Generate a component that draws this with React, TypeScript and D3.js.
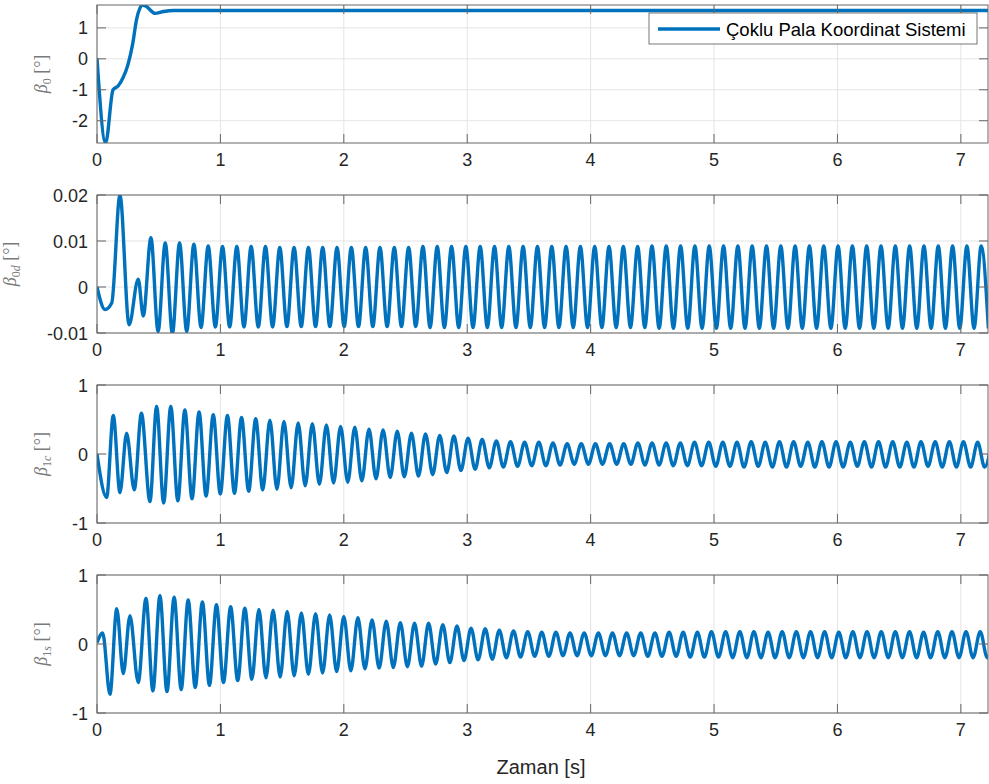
import * as d3 from 'd3';

// time axis
const tMax = 7.22;
const xTicks = [0, 1, 2, 3, 4, 5, 6, 7];

// beta_0
const b0T = [0, 0.07, 0.13, 0.17, 0.21, 0.25, 0.29, 0.32, 0.347, 0.37, 0.4, 0.47, 0.54, 0.62, 1.0, 7.22];
const b0V = [0.02, -2.72, -1.0, -0.88, -0.62, -0.2, 0.5, 1.26, 1.63, 1.74, 1.69, 1.47, 1.53, 1.56, 1.56, 1.56];

// beta_0d
const b0dT = [0, 0.065, 0.12, 0.186, 0.26, 0.334, 0.375];
const b0dV = [0, -0.0049, -0.0034, 0.02, -0.0082, 0.0017, -0.0063];
const b0dPeakT = [
    0.437, 0.553, 0.669, 0.785, 0.901, 1.017, 1.133, 1.249, 1.365, 1.481, 1.597, 1.713, 1.829, 1.945, 2.061,
    2.177, 2.293, 2.409, 2.525, 2.641, 2.757, 2.873, 2.989, 3.105, 3.221, 3.337, 3.453, 3.569, 3.685, 3.801,
    3.917, 4.033, 4.149, 4.265, 4.381, 4.497, 4.613, 4.729, 4.845, 4.961, 5.077, 5.193, 5.309, 5.425, 5.541,
    5.657, 5.773, 5.889, 6.005, 6.121, 6.237, 6.353, 6.469, 6.585, 6.701, 6.817, 6.933, 7.049, 7.165,
];
const b0dPeakV = [
    0.0107, 0.0096, 0.0096, 0.0093, 0.0089, 0.0088, 0.0088, 0.0088, 0.0088,
    0.0086, 0.0086, 0.0086, 0.0086, 0.0086, 0.0086, 0.0086, 0.0086, 0.0086, 0.0086,
    0.0088, 0.0088, 0.0088, 0.0088, 0.0088, 0.0088, 0.0088, 0.0088, 0.0088, 0.0088, 0.0088, 0.0088, 0.0088,
    0.0088, 0.0088, 0.0088,
    0.0089, 0.0089, 0.0089, 0.0089, 0.0089, 0.0089, 0.0089, 0.0089, 0.0089, 0.0089, 0.0089, 0.0089, 0.0089,
    0.0089, 0.0089, 0.0089, 0.0089, 0.0089, 0.0089, 0.0089, 0.0089, 0.0089, 0.0089, 0.0089,
];
const b0dTroughT = [
    0.495, 0.611, 0.727, 0.843, 0.959, 1.075, 1.191, 1.307, 1.423, 1.539, 1.655, 1.771, 1.887, 2.003, 2.119,
    2.235, 2.351, 2.467, 2.583, 2.699, 2.815, 2.931, 3.047, 3.163, 3.279, 3.395, 3.511, 3.627, 3.743, 3.859,
    3.975, 4.091, 4.207, 4.323, 4.439, 4.555, 4.671, 4.787, 4.903, 5.019, 5.135, 5.251, 5.367, 5.483, 5.599,
    5.715, 5.831, 5.947, 6.063, 6.179, 6.295, 6.411, 6.527, 6.643, 6.759, 6.875, 6.991, 7.107, 7.223,
];
const b0dTroughV = [
    -0.0097, -0.0101, -0.0097, -0.0088, -0.0087, -0.0087, -0.0087, -0.0087, -0.0087,
    -0.0086, -0.0086, -0.0086, -0.0086, -0.0086, -0.0086, -0.0086, -0.0086, -0.0086, -0.0086,
    -0.0088, -0.0088, -0.0088, -0.0088, -0.0088, -0.0088, -0.0088, -0.0088, -0.0088, -0.0088, -0.0088,
    -0.0088, -0.0088, -0.0088, -0.0088, -0.0088,
    -0.009, -0.009, -0.009, -0.009, -0.009, -0.009, -0.009, -0.009, -0.009, -0.009, -0.009, -0.009, -0.009,
    -0.009, -0.009, -0.009, -0.009, -0.009, -0.009, -0.009, -0.009, -0.009, -0.009, -0.009,
];

// beta_1c
const b1cT = [0, 0.078, 0.132, 0.186, 0.24, 0.302, 0.36, 0.429];
const b1cV = [0, -0.63, 0.56, -0.56, 0.3, -0.52, 0.59, -0.69];
const b1cPeakT = [
    0.483, 0.598, 0.712, 0.827, 0.942, 1.057, 1.171, 1.286, 1.401, 1.515, 1.63, 1.745, 1.859, 1.974, 2.089,
    2.204, 2.318, 2.433, 2.548, 2.662, 2.777, 2.892, 3.007, 3.121, 3.236, 3.351, 3.465, 3.58, 3.695, 3.81,
    3.924, 4.039, 4.154, 4.268, 4.383, 4.498, 4.612, 4.727, 4.842, 4.957, 5.071, 5.186, 5.301, 5.415, 5.53,
    5.645, 5.76, 5.874, 5.989, 6.104, 6.218, 6.333, 6.448, 6.562, 6.677, 6.792, 6.907, 7.021, 7.136, 7.251,
];
const b1cPeakV = [
    0.69, 0.69, 0.64, 0.61, 0.57, 0.56, 0.53, 0.51, 0.49, 0.47, 0.45, 0.44, 0.42, 0.4, 0.39, 0.36, 0.35, 0.33, 0.3,
    0.29, 0.27, 0.26, 0.23, 0.21, 0.19, 0.18, 0.17, 0.17, 0.16, 0.15, 0.15, 0.15, 0.15, 0.15, 0.16, 0.16, 0.16,
    0.16, 0.17, 0.17, 0.17,
    0.17, 0.18, 0.17, 0.18, 0.18, 0.17, 0.18, 0.18, 0.17, 0.18, 0.18, 0.18, 0.17, 0.18, 0.18, 0.18, 0.18, 0.17, 0.18,
];
const b1cTroughT = [
    0.54, 0.655, 0.77, 0.884, 0.999, 1.114, 1.229, 1.343, 1.458, 1.573, 1.687, 1.802, 1.917, 2.032, 2.146,
    2.261, 2.376, 2.49, 2.605, 2.72, 2.834, 2.949, 3.064, 3.179, 3.293, 3.408, 3.523, 3.637, 3.752, 3.867,
    3.982, 4.096, 4.211, 4.326, 4.44, 4.555, 4.67, 4.784, 4.899, 5.014, 5.129, 5.243, 5.358, 5.473, 5.587,
    5.702, 5.817, 5.932, 6.046, 6.161, 6.276, 6.39, 6.505, 6.62, 6.734, 6.849, 6.964, 7.079, 7.193,
];
const b1cTroughV = [
    -0.71, -0.68, -0.65, -0.61, -0.58, -0.57, -0.54, -0.52, -0.51, -0.49, -0.46, -0.44, -0.42, -0.41, -0.39,
    -0.36, -0.34, -0.33, -0.32,
    -0.3, -0.27, -0.24, -0.22, -0.2, -0.19, -0.18, -0.17, -0.17, -0.16, -0.15, -0.15, -0.15, -0.15, -0.15,
    -0.16, -0.16, -0.17, -0.17, -0.17, -0.18, -0.18,
    -0.19, -0.18, -0.19, -0.19, -0.18, -0.19, -0.19, -0.19, -0.18, -0.19, -0.19, -0.19, -0.19, -0.18, -0.19,
    -0.19, -0.19, -0.19,
];

// beta_1s
const b1sT = [0, 0.046, 0.105, 0.16, 0.213, 0.267, 0.334, 0.397, 0.453];
const b1sV = [0.02, 0.16, -0.73, 0.51, -0.43, 0.41, -0.56, 0.66, -0.68];
const b1sPeakT = [
    0.51, 0.625, 0.739, 0.854, 0.968, 1.083, 1.198, 1.312, 1.427, 1.541, 1.656, 1.771, 1.885, 2.0, 2.114,
    2.229, 2.344, 2.458, 2.573, 2.687, 2.802, 2.917, 3.031, 3.146, 3.26, 3.375, 3.49, 3.604, 3.719, 3.833,
    3.948, 4.063, 4.177, 4.292, 4.406, 4.521, 4.636, 4.75, 4.865, 4.979, 5.094, 5.209, 5.323, 5.438, 5.552,
    5.667, 5.782, 5.896, 6.011, 6.125, 6.24, 6.355, 6.469, 6.584, 6.698, 6.813, 6.928, 7.042, 7.157, 7.271,
];
const b1sPeakV = [
    0.7, 0.68, 0.64, 0.61, 0.57, 0.54, 0.52, 0.5, 0.49, 0.47, 0.45, 0.44, 0.42, 0.4, 0.38, 0.35, 0.33, 0.31, 0.3,
    0.3, 0.28, 0.26, 0.23, 0.22, 0.2, 0.19, 0.18, 0.17, 0.17, 0.16, 0.16, 0.16, 0.16, 0.16, 0.16, 0.16, 0.17,
    0.17, 0.17, 0.18, 0.18,
    0.18, 0.18, 0.17, 0.18, 0.18, 0.18, 0.18, 0.17, 0.18, 0.18, 0.18, 0.18, 0.18, 0.17, 0.18, 0.18, 0.18, 0.18, 0.18,
];
const b1sTroughT = [
    0.567, 0.682, 0.796, 0.911, 1.025, 1.14, 1.255, 1.369, 1.484, 1.598, 1.713, 1.828, 1.942, 2.057, 2.171,
    2.286, 2.401, 2.515, 2.63, 2.744, 2.859, 2.974, 3.088, 3.203, 3.317, 3.432, 3.547, 3.661, 3.776, 3.89,
    4.005, 4.12, 4.234, 4.349, 4.463, 4.578, 4.693, 4.807, 4.922, 5.036, 5.151, 5.266, 5.38, 5.495, 5.609,
    5.724, 5.839, 5.953, 6.068, 6.182, 6.297, 6.412, 6.526, 6.641, 6.755, 6.87, 6.985, 7.099, 7.214,
];
const b1sTroughV = [
    -0.69, -0.66, -0.63, -0.6, -0.56, -0.53, -0.51, -0.49, -0.48, -0.46, -0.44, -0.42, -0.4, -0.39, -0.36,
    -0.35, -0.34, -0.33, -0.32,
    -0.29, -0.27, -0.24, -0.23, -0.22, -0.2, -0.19, -0.18, -0.18, -0.17, -0.17, -0.17, -0.17, -0.17, -0.17,
    -0.18, -0.18, -0.18, -0.19, -0.19, -0.19, -0.2,
    -0.2, -0.2, -0.2, -0.2, -0.2, -0.2, -0.2, -0.2, -0.2, -0.2, -0.2, -0.2, -0.2, -0.2, -0.2, -0.2, -0.2, -0.2,
];

const legendLabel = 'Çoklu Pala Koordinat Sistemi';

const merge = (...pairs: number[][][]) =>
    pairs
        .flatMap(([t, v]) => d3.zip(t, v))
        .sort((a, b) => a[0] - b[0]);

const panels = [
    {sub: ['0', ''], domain: [-2.72, 1.74], ticks: [-2, -1, 0, 1], labelX: 47, data: merge([b0T, b0V])},
    {
        sub: ['0', 'd'],
        domain: [-0.01, 0.02],
        ticks: [-0.01, 0, 0.01, 0.02],
        labelX: 16,
        data: merge([b0dT, b0dV], [b0dPeakT, b0dPeakV], [b0dTroughT, b0dTroughV]),
    },
    {
        sub: ['1', 'c'],
        domain: [-1, 1],
        ticks: [-1, 0, 1],
        labelX: 47,
        data: merge([b1cT, b1cV], [b1cPeakT, b1cPeakV], [b1cTroughT, b1cTroughV]),
    },
    {
        sub: ['1', 's'],
        domain: [-1, 1],
        ticks: [-1, 0, 1],
        labelX: 47,
        data: merge([b1sT, b1sV], [b1sPeakT, b1sPeakV], [b1sTroughT, b1sTroughV]),
    },
];

const left = 97;
const right = 988;
const tops = [5, 195, 385, 575];
const ph = 138;
const tick = 9;
const axisColor = '#666';
const gridColor = '#e4e4e4';
const lineColor = '#0072BD';
const textColor = '#262626';

const Panel = ({p, top, idx}) => {
    const bottom = top + ph;
    const x = d3.scaleLinear().domain([0, tMax]).range([left, right]);
    const y = d3.scaleLinear().domain(p.domain).range([bottom, top]);
    const line = d3
        .line<number[]>()
        .x((d) => x(d[0]))
        .y((d) => y(d[1]))
        .curve(d3.curveMonotoneX);
    const clip = `clip-${idx}`;

    return (
        <g>
            <clipPath id={clip}>
                <rect x={left} y={top} width={right - left} height={ph} />
            </clipPath>
            <rect x={left} y={top} width={right - left} height={ph} fill="#fff" />
            {xTicks.map((t) => (
                <line key={'gx' + t} x1={x(t)} x2={x(t)} y1={top} y2={bottom} stroke={gridColor} />
            ))}
            {p.ticks.map((v) => (
                <line key={'gy' + v} x1={left} x2={right} y1={y(v)} y2={y(v)} stroke={gridColor} />
            ))}
            <path
                d={line(p.data) ?? ''}
                fill="none"
                stroke={lineColor}
                strokeWidth={3.4}
                strokeLinejoin="round"
                clipPath={`url(#${clip})`}
            />
            <rect x={left} y={top} width={right - left} height={ph} fill="none" stroke={axisColor} />
            {xTicks.map((t) => (
                <g key={'tx' + t} stroke={axisColor}>
                    <line x1={x(t)} x2={x(t)} y1={bottom} y2={bottom - tick} />
                    <line x1={x(t)} x2={x(t)} y1={top} y2={top + tick} />
                </g>
            ))}
            {p.ticks.map((v) => (
                <g key={'ty' + v} stroke={axisColor}>
                    <line x1={left} x2={left + tick} y1={y(v)} y2={y(v)} />
                    <line x1={right} x2={right - tick} y1={y(v)} y2={y(v)} />
                </g>
            ))}
            {xTicks.map((t) => (
                <text key={'lx' + t} x={x(t)} y={bottom + 23} textAnchor="middle" fontSize={18} fill={textColor}>
                    {String(t)}
                </text>
            ))}
            {p.ticks.map((v) => (
                <text key={'ly' + v} x={left - 9} y={y(v) + 6.5} textAnchor="end" fontSize={18} fill={textColor}>
                    {String(v)}
                </text>
            ))}
            <text
                transform={`translate(${p.labelX},${top + ph / 2}) rotate(-90)`}
                textAnchor="middle"
                fontFamily="'Liberation Serif', 'DejaVu Serif', serif"
                fontSize={18}
                fill="#7a7a7a"
            >
                <tspan fontStyle="italic">β</tspan>
                <tspan fontSize={12} dy={4}>
                    {p.sub[0]}
                </tspan>
                <tspan fontSize={12} fontStyle="italic">
                    {p.sub[1]}
                </tspan>
                <tspan dy={-4}>{'  [°]'}</tspan>
            </text>
        </g>
    );
};

export default function App() {
    return (
        <svg
            width={989}
            height={784}
            style={{position: 'absolute', left: 0, top: 0, background: '#fff', display: 'block'}}
            fontFamily="'Liberation Sans', Arial, Helvetica, sans-serif"
        >
            {panels.map((p, i) => (
                <Panel key={i} p={p} top={tops[i]} idx={i} />
            ))}
            <text x={541} y={774} textAnchor="middle" fontSize={20} fill={textColor}>
                Zaman [s]
            </text>
            <g>
                <rect x={649} y={13} width={328} height={31} fill="#fff" stroke="#555" strokeWidth={0.8} />
                <line x1={658} x2={720} y1={29} y2={29} stroke={lineColor} strokeWidth={3.4} />
                <text x={726} y={35.5} fontSize={18.5} fill="#000">
                    {legendLabel}
                </text>
            </g>
        </svg>
    );
}
